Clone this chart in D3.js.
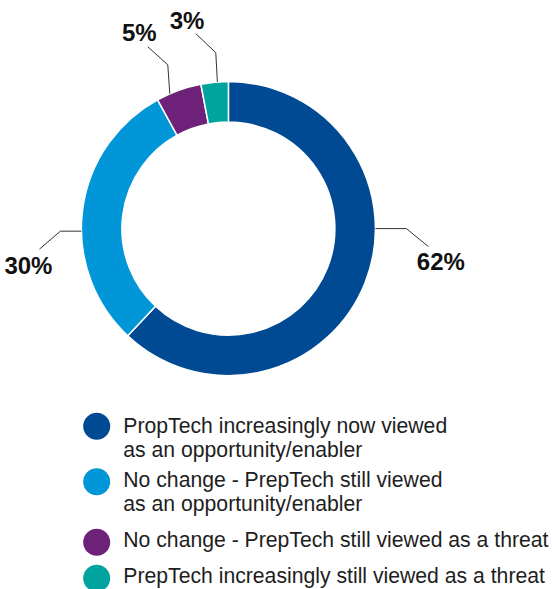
<!DOCTYPE html>
<html>
<head>
<meta charset="utf-8">
<script src="https://cdn.jsdelivr.net/npm/d3@7"></script>
<style>
	body { margin: 0; background: #fff; }
	svg { display: block; }
</style>
</head>
<body>
<div id="chart"></div>
<script>
// Donut: perception of PropTech
///

const categories = [
	'PropTech increasingly now viewed as an opportunity/enabler',
	'No change - PrepTech still viewed as an opportunity/enabler',
	'No change - PrepTech still viewed as a threat',
	'PrepTech increasingly still viewed as a threat'
];
const values = [62, 30, 5, 3];
const colors = ['#004a93', '#0096d8', '#6e2178', '#00a39e'];
const legendLines = [
	['PropTech increasingly now viewed', 'as an opportunity/enabler'],
	['No change - PrepTech still viewed', 'as an opportunity/enabler'],
	['No change - PrepTech still viewed as a threat'],
	['PrepTech increasingly still viewed as a threat']
];

const w = 552, h = 589;
const cx = 228.4, cy = 228.6, rOuter = 147, rInner = 106.5;

// where each leader line leaves the ring, and how it bends
const leader = [
	{ angle: 90,    elbow: [31, 0],   end: [22, 18],   text: [12.5, 23.5] },
	{ angle: 269,   elbow: [-21, 0],  end: [-21, 18],  text: [-11, 24.4] },
	{ angle: 336.5, elbow: [-2, -29], end: [-20, -18], text: [-8.5, -5.7] },
	{ angle: 355.7, elbow: [-1.6, -29.4], end: [-20, -19], text: [-8.7, -5] }
];

let svg = d3.select('#chart').append('svg')
	.attr('width', w)
	.attr('height', h)
	.attr('viewBox', '0 0 ' + w + ' ' + h);

const pie = d3.pie().sort(null).value(d => d);
const arc = d3.arc().innerRadius(rInner).outerRadius(rOuter);
const color = d3.scaleOrdinal().domain(d3.range(values.length)).range(colors);

let ring = svg.append('g').attr('transform', 'translate(' + cx + ',' + cy + ')');

ring.selectAll('path')
	.data(pie(values))
	.enter()
	.append('path')
	.attr('d', arc)
	.attr('fill', (d, i) => color(i))
	.attr('stroke', '#fff')
	.attr('stroke-width', 1.5);

// leader lines + labels
let labels = ring.selectAll('g.lbl')
	.data(pie(values))
	.enter()
	.append('g')
	.attr('class', 'lbl');

function anchorPoint(i) {
	let a = leader[i].angle * Math.PI / 180;
	return [Math.sin(a) * rOuter, -Math.cos(a) * rOuter];
}

labels.append('polyline')
	.attr('fill', 'none')
	.attr('stroke', '#333')
	.attr('stroke-width', 1)
	.attr('points', function(d, i) {
		let p0 = anchorPoint(i);
		let p1 = [p0[0] + leader[i].elbow[0], p0[1] + leader[i].elbow[1]];
		let p2 = [p1[0] + leader[i].end[0], p1[1] + leader[i].end[1]];
		return [p0, p1, p2].map(p => p.join(',')).join(' ');
	});

labels.append('text')
	.attr('x', function(d, i) {
		let p0 = anchorPoint(i);
		return p0[0] + leader[i].elbow[0] + leader[i].end[0] + leader[i].text[0];
	})
	.attr('y', function(d, i) {
		let p0 = anchorPoint(i);
		return p0[1] + leader[i].elbow[1] + leader[i].end[1] + leader[i].text[1];
	})
	.attr('text-anchor', 'middle')
	.attr('font-family', 'Liberation Sans, Arial, sans-serif')
	.attr('font-weight', 'bold')
	.attr('font-size', 24)
	.attr('fill', '#111')
	.text(d => d.data + '%');

// legend
const legendBase = [433.3, 487.3, 546.7, 582.7];
const dotOffset = [-7, -5.6, -4.4, -4.4];
const lineGap = 23.5;

let legend = svg.append('g').attr('class', 'legend');

let items = legend.selectAll('g')
	.data(categories)
	.enter()
	.append('g');

items.append('circle')
	.attr('cx', 96.7)
	.attr('cy', (d, i) => legendBase[i] + dotOffset[i])
	.attr('r', 13.5)
	.attr('fill', (d, i) => color(i));

items.append('text')
	.attr('font-family', 'Liberation Sans, Arial, sans-serif')
	.attr('font-size', 21.2)
	.attr('fill', '#1e1e1e')
	.selectAll('tspan')
	.data((d, i) => legendLines[i].map(t => ({ t: t, i: i })))
	.enter()
	.append('tspan')
	.attr('x', 123.3)
	.attr('y', (d, j) => legendBase[d.i] + j * lineGap)
	.text(d => d.t);
</script>
</body>
</html>
